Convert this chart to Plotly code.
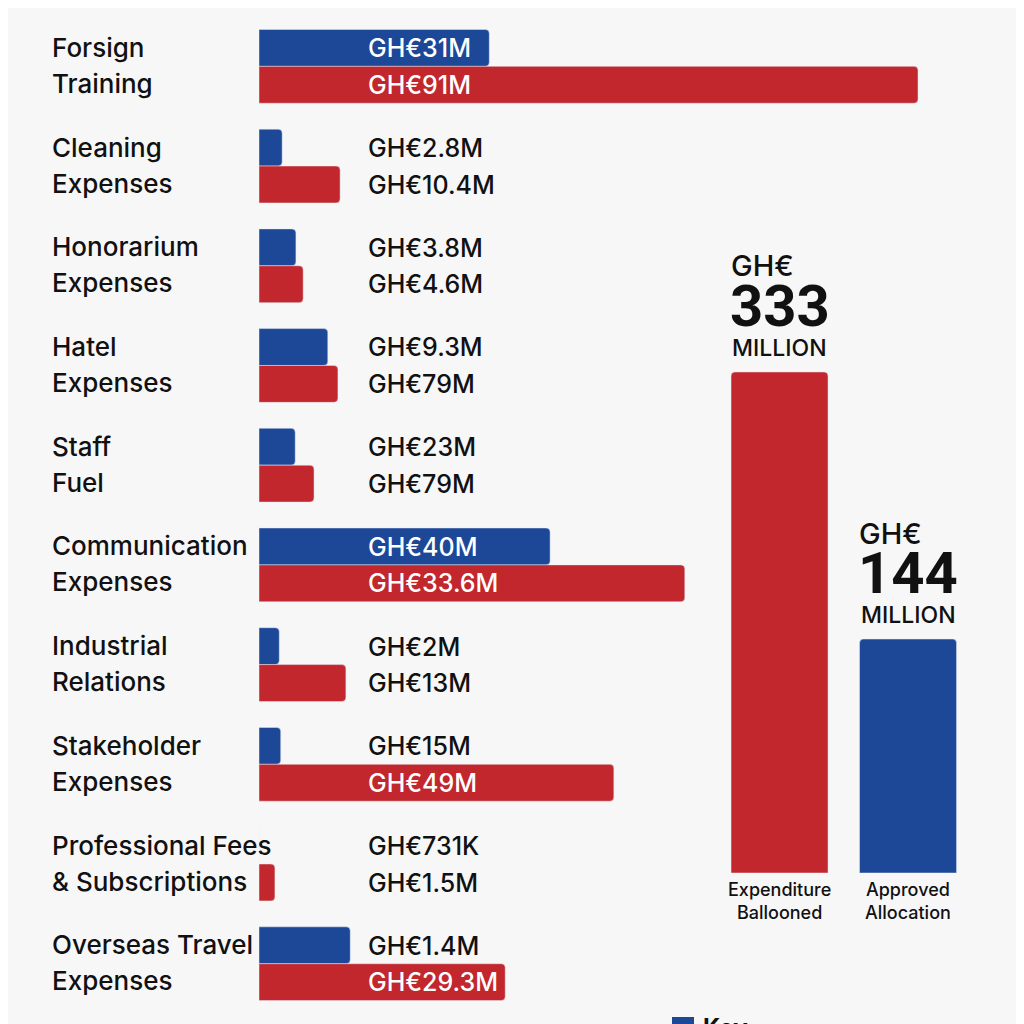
import plotly.graph_objects as go

# category labels, two lines each
label_top = ["Forsign", "Cleaning", "Honorarium", "Hatel", "Staff",
             "Communication", "Industrial", "Stakeholder", "Professional Fees", "Overseas Travel"]
label_bottom = ["Training", "Expenses", "Expenses", "Expenses", "Fuel",
                "Expenses", "Relations", "Expenses", "& Subscriptions", "Expenses"]
categories = [a + " " + b for a, b in zip(label_top, label_bottom)]

# printed values
approved_text = ["GH€31M", "GH€2.8M", "GH€3.8M", "GH€9.3M", "GH€23M",
                 "GH€40M", "GH€2M", "GH€15M", "GH€731K", "GH€1.4M"]
spent_text = ["GH€91M", "GH€10.4M", "GH€4.6M", "GH€79M", "GH€79M",
              "GH€33.6M", "GH€13M", "GH€49M", "GH€1.5M", "GH€29.3M"]

# bar lengths as drawn in the picture (GH€ millions, same scale as the 91M bar)
approved_drawn = [31.8, 3.2, 5.1, 9.5, 5.0, 40.2, 2.8, 3.0, 0, 12.6]
spent_drawn = [91, 11.2, 6.1, 10.9, 7.6, 58.8, 12.0, 49.0, 2.2, 34.0]

# totals on the right
total_names = ["Expenditure<br>Ballooned", "Approved<br>Allocation"]
total_text = ["333", "144"]
total_drawn = [333, 155.5]

BLUE = "#1d4797"
RED = "#c1272d"
BG = "#f7f7f8"
FONT = "Inter"
label_x = 14.8  # where the value labels start, in left-axis units

fig = go.Figure()
fig.add_trace(go.Bar(y=categories, x=approved_drawn, orientation="h",
                     marker=dict(color=BLUE), xaxis="x", yaxis="y"))
fig.add_trace(go.Bar(y=categories, x=spent_drawn, orientation="h",
                     marker=dict(color=RED), xaxis="x", yaxis="y"))
fig.add_trace(go.Bar(x=["spent", "approved"], y=total_drawn, width=0.755,
                     marker=dict(color=[RED, BLUE]), xaxis="x2", yaxis="y2"))

ann = []
for i, c in enumerate(categories):
    ann.append(dict(x=42 / 1024, xref="paper", y=c, yref="y", yshift=19,
                    text=label_top[i], xanchor="left", showarrow=False,
                    font=dict(size=26, color="#111", family=FONT, weight=500)))
    ann.append(dict(x=42 / 1024, xref="paper", y=c, yref="y", yshift=-17,
                    text=label_bottom[i], xanchor="left", showarrow=False,
                    font=dict(size=26, color="#111", family=FONT, weight=500)))
    for txt, val, sh in [(approved_text[i], approved_drawn[i], 18),
                         (spent_text[i], spent_drawn[i], -18.5)]:
        col = "white" if val > label_x + 16 else "#111"
        ann.append(dict(x=label_x, xref="x", y=c, yref="y", yshift=sh,
                        text=txt, xanchor="left", showarrow=False,
                        font=dict(size=25, color=col, family=FONT, weight=500)))

for k, cat in enumerate(["spent", "approved"]):
    ann.append(dict(x=cat, xref="x2", xshift=-51, y=total_drawn[k], yref="y2", yshift=106,
                    text="GH€", xanchor="left", showarrow=False,
                    font=dict(size=29, color="#111", family=FONT, weight=500)))
    ann.append(dict(x=cat, xref="x2", y=total_drawn[k], yref="y2", yshift=66,
                    text="<b>" + total_text[k] + "</b>", xanchor="center", showarrow=False,
                    font=dict(size=58, color="#111", family="Roboto")))
    ann.append(dict(x=cat, xref="x2", y=total_drawn[k], yref="y2", yshift=24,
                    text="MILLION", xanchor="center", showarrow=False,
                    font=dict(size=23, color="#111", family=FONT, weight=500)))
    ann.append(dict(x=cat, xref="x2", y=0, yref="y2", yanchor="top", yshift=-4,
                    text=total_names[k], xanchor="center", showarrow=False,
                    font=dict(size=18, color="#111", family=FONT, weight=500)))

# key at the bottom edge, mostly cut off
ann.append(dict(x=693 / 1024, xref="paper", y=1 - 1003 / 1024, yref="paper", text="<b>Key</b>",
                xanchor="left", yanchor="top", showarrow=False,
                font=dict(size=24, color="#111", family=FONT)))

fig.update_layout(
    width=1024, height=1024,
    margin=dict(l=0, r=0, t=0, b=0),
    paper_bgcolor=BG, plot_bgcolor="rgba(0,0,0,0)",
    barmode="group", bargap=0.26, bargroupgap=0,
    barcornerradius=4,
    showlegend=False,
    annotations=ann,
    shapes=[dict(type="rect", xref="paper", yref="paper",
                 x0=664 / 1024, x1=686 / 1024, y0=0, y1=1 - 1009 / 1024,
                 fillcolor=BLUE, line=dict(width=0))],
    xaxis=dict(domain=[251 / 1024, 1], range=[0, 106.74], visible=False),
    yaxis=dict(domain=[0.0180, 0.9917], type="category", categoryorder="array",
               categoryarray=categories, range=[9.5, -0.5], visible=False),
    xaxis2=dict(domain=[0.6907, 0.9417], anchor="y2", type="category",
                range=[-0.5, 1.5], visible=False),
    yaxis2=dict(domain=[0.15527, 1], anchor="x2", range=[0, 574.9], visible=False),
)

fig.write_html("out.html")
